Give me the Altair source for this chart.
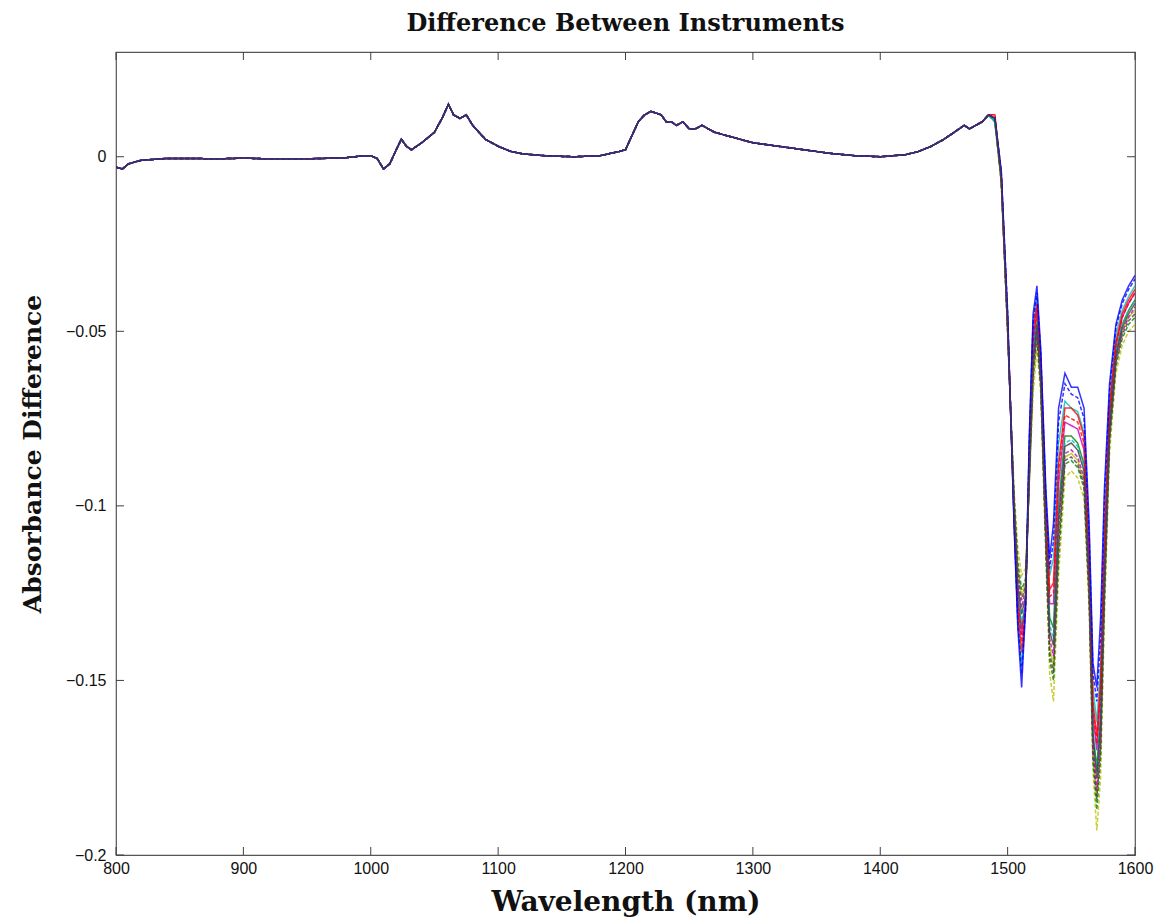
import altair as alt
import pandas as pd

# shared part of the spectra (800-1485 nm)
base_wl = [800, 805, 810, 820, 840, 860, 880, 900, 920, 950, 980, 995, 1000, 1005, 1010, 1015, 1020, 1024,
           1028, 1032, 1040, 1050, 1056, 1061, 1065, 1070, 1075, 1080, 1090, 1100, 1110, 1120, 1140, 1160,
           1180, 1195, 1200, 1205, 1210, 1215, 1220, 1228, 1232, 1236, 1240, 1245, 1250, 1255, 1260, 1270,
           1280, 1290, 1300, 1320, 1340, 1360, 1380, 1400, 1420, 1430, 1440, 1450, 1458, 1462, 1466, 1470,
           1475, 1480, 1485]
base_val = [-0.003, -0.0035, -0.002, -0.001, -0.0005, -0.0005, -0.0006, -0.0004, -0.0006, -0.0006, -0.0003,
            0.0003, 0.0003, -0.0005, -0.0035, -0.002, 0.002, 0.005, 0.003, 0.002, 0.004, 0.007, 0.011, 0.015,
            0.012, 0.011, 0.012, 0.009, 0.005, 0.003, 0.0015, 0.0008, 0.0002, 0.0, 0.0003, 0.0015, 0.002, 0.006,
            0.010, 0.012, 0.013, 0.012, 0.010, 0.010, 0.009, 0.010, 0.008, 0.008, 0.009, 0.007, 0.006, 0.005,
            0.004, 0.003, 0.002, 0.001, 0.0003, 0.0, 0.0006, 0.0015, 0.003, 0.005, 0.007, 0.008, 0.009, 0.008,
            0.009, 0.010, 0.012]

# individual tails (1490-1600 nm)
tail_wl = [1490, 1495, 1500, 1505, 1508, 1511, 1514, 1517, 1520, 1523, 1526, 1530, 1533, 1536, 1540, 1545,
           1550, 1555, 1560, 1564, 1567, 1570, 1573, 1576, 1580, 1585, 1590, 1595, 1600]

s1 = [0.011, -0.004, -0.045, -0.105, -0.135, -0.152, -0.130, -0.080, -0.045, -0.037, -0.055, -0.095, -0.115, -0.105, -0.072, -0.062, -0.066, -0.066, -0.072, -0.105, -0.145, -0.152, -0.132, -0.095, -0.065, -0.048, -0.041, -0.037, -0.034]
s2 = [0.010, -0.006, -0.048, -0.100, -0.125, -0.135, -0.128, -0.090, -0.055, -0.046, -0.062, -0.105, -0.132, -0.135, -0.100, -0.080, -0.080, -0.082, -0.088, -0.120, -0.165, -0.175, -0.160, -0.118, -0.076, -0.056, -0.048, -0.044, -0.041]
s3 = [0.012, -0.005, -0.047, -0.103, -0.130, -0.142, -0.130, -0.085, -0.050, -0.042, -0.058, -0.100, -0.124, -0.122, -0.088, -0.072, -0.072, -0.074, -0.080, -0.114, -0.156, -0.166, -0.150, -0.110, -0.072, -0.053, -0.045, -0.041, -0.038]
s4 = [0.010, -0.005, -0.046, -0.104, -0.133, -0.146, -0.128, -0.082, -0.048, -0.040, -0.057, -0.098, -0.120, -0.115, -0.082, -0.070, -0.072, -0.073, -0.079, -0.112, -0.152, -0.162, -0.146, -0.106, -0.070, -0.051, -0.044, -0.040, -0.037]
s5 = [0.011, -0.006, -0.049, -0.101, -0.127, -0.137, -0.128, -0.088, -0.053, -0.044, -0.060, -0.103, -0.128, -0.128, -0.094, -0.076, -0.077, -0.078, -0.084, -0.118, -0.160, -0.170, -0.154, -0.114, -0.074, -0.054, -0.046, -0.042, -0.039]
s6 = [0.010, -0.007, -0.050, -0.098, -0.118, -0.126, -0.122, -0.092, -0.062, -0.050, -0.065, -0.110, -0.140, -0.146, -0.110, -0.086, -0.085, -0.087, -0.093, -0.125, -0.170, -0.183, -0.168, -0.125, -0.080, -0.058, -0.050, -0.046, -0.044]
s7 = [0.011, -0.006, -0.048, -0.100, -0.123, -0.131, -0.126, -0.091, -0.058, -0.048, -0.064, -0.108, -0.136, -0.140, -0.104, -0.083, -0.082, -0.084, -0.090, -0.122, -0.166, -0.178, -0.162, -0.120, -0.078, -0.057, -0.049, -0.045, -0.042]
s8 = [0.011, -0.004, -0.044, -0.104, -0.133, -0.148, -0.130, -0.082, -0.047, -0.039, -0.056, -0.097, -0.118, -0.110, -0.076, -0.065, -0.068, -0.069, -0.075, -0.108, -0.148, -0.156, -0.138, -0.098, -0.067, -0.049, -0.042, -0.038, -0.035]
s9 = [0.010, -0.007, -0.050, -0.097, -0.116, -0.124, -0.121, -0.093, -0.064, -0.052, -0.066, -0.112, -0.144, -0.150, -0.115, -0.088, -0.087, -0.089, -0.095, -0.127, -0.173, -0.187, -0.172, -0.128, -0.082, -0.060, -0.052, -0.048, -0.046]
s10 = [0.012, -0.006, -0.047, -0.102, -0.128, -0.139, -0.129, -0.087, -0.052, -0.043, -0.059, -0.102, -0.126, -0.125, -0.090, -0.074, -0.075, -0.076, -0.082, -0.116, -0.158, -0.168, -0.152, -0.112, -0.073, -0.054, -0.046, -0.042, -0.039]
s11 = [0.010, -0.006, -0.048, -0.100, -0.124, -0.133, -0.127, -0.090, -0.056, -0.047, -0.063, -0.107, -0.134, -0.138, -0.102, -0.082, -0.081, -0.083, -0.089, -0.121, -0.165, -0.176, -0.160, -0.118, -0.077, -0.056, -0.048, -0.044, -0.041]
s12 = [0.011, -0.006, -0.049, -0.099, -0.121, -0.129, -0.124, -0.092, -0.060, -0.049, -0.065, -0.109, -0.138, -0.143, -0.107, -0.085, -0.084, -0.086, -0.092, -0.124, -0.169, -0.181, -0.166, -0.122, -0.079, -0.058, -0.050, -0.046, -0.043]
s13 = [0.010, -0.008, -0.050, -0.095, -0.112, -0.120, -0.118, -0.095, -0.068, -0.055, -0.068, -0.115, -0.148, -0.156, -0.120, -0.092, -0.090, -0.092, -0.098, -0.130, -0.176, -0.193, -0.178, -0.132, -0.085, -0.062, -0.054, -0.050, -0.048]
s14 = [0.011, -0.007, -0.050, -0.098, -0.119, -0.127, -0.123, -0.092, -0.061, -0.050, -0.065, -0.111, -0.142, -0.148, -0.112, -0.087, -0.086, -0.088, -0.094, -0.126, -0.171, -0.184, -0.169, -0.125, -0.081, -0.059, -0.051, -0.047, -0.045]

series_names = ["S1", "S2", "S3", "S4", "S5", "S6", "S7", "S8", "S9", "S10", "S11", "S12", "S13", "S14"]
tails = [s1, s2, s3, s4, s5, s6, s7, s8, s9, s10, s11, s12, s13, s14]
colors = ["#0000ff", "#008000", "#ff0000", "#00bfbf", "#bf00bf", "#bfbf00", "#404040",
          "#0000ff", "#008000", "#ff0000", "#00bfbf", "#bf00bf", "#bfbf00", "#404040"]
styles = ["solid"] * 7 + ["dashed"] * 7

# drawing order: last ones on top
draw_order = ["S13", "S6", "S9", "S2", "S14", "S12", "S5", "S11", "S4", "S10", "S3", "S8", "S1", "S7"]

x_ticks = [800, 900, 1000, 1100, 1200, 1300, 1400, 1500, 1600]
y_ticks = [0, -0.05, -0.1, -0.15, -0.2]

lookup = {n: (t, s) for n, t, s in zip(series_names, tails, styles)}
rows = []
for name in draw_order:
    tail, st = lookup[name]
    for w, v in zip(base_wl + tail_wl, base_val + tail):
        rows.append({"series": name, "wl": w, "val": v, "style": st})
df = pd.DataFrame(rows)

W, H = 1019, 803
xs = alt.Scale(domain=[800, 1600], nice=False, zero=False)
ys = alt.Scale(domain=[-0.2, 0.03], nice=False, zero=False)

lines = alt.Chart(df).mark_line(strokeWidth=1.5, clip=True, opacity=0.8).encode(
    x=alt.X("wl:Q", scale=xs,
            axis=alt.Axis(values=x_ticks, format="d", title="Wavelength (nm)", grid=False, tickSize=0,
                          labelPadding=5, domain=False, labelFlush=False, titlePadding=12)),
    y=alt.Y("val:Q", scale=ys,
            axis=alt.Axis(values=y_ticks, title="Absorbance Difference", grid=False, tickSize=0,
                          labelPadding=10, domain=False, labelFlush=False, titlePadding=20,
                          labelExpr="datum.value == 0 ? '0' : format(datum.value, '.2~f')")),
    color=alt.Color("series:N", scale=alt.Scale(domain=series_names, range=colors), legend=None),
    strokeDash=alt.StrokeDash("style:N", scale=alt.Scale(domain=["solid", "dashed"], range=[[1, 0], [4, 2]]),
                              legend=None),
    detail="series:N",
)

xt = pd.DataFrame({"t": x_ticks})
yt = pd.DataFrame({"t": y_ticks})
tick_col = "#404040"
xb = alt.Chart(xt).mark_rule(color=tick_col, strokeWidth=1).encode(
    x=alt.X("t:Q", scale=xs), y=alt.value(H), y2=alt.value(H - 8))
xtop = alt.Chart(xt).mark_rule(color=tick_col, strokeWidth=1).encode(
    x=alt.X("t:Q", scale=xs), y=alt.value(0), y2=alt.value(8))
yl = alt.Chart(yt).mark_rule(color=tick_col, strokeWidth=1).encode(
    y=alt.Y("t:Q", scale=ys), x=alt.value(0), x2=alt.value(8))
yr = alt.Chart(yt).mark_rule(color=tick_col, strokeWidth=1).encode(
    y=alt.Y("t:Q", scale=ys), x=alt.value(W), x2=alt.value(W - 8))

chart = alt.layer(lines, xb, xtop, yl, yr).properties(
    width=W, height=H,
    title=alt.TitleParams("Difference Between Instruments", font="DejaVu Serif", fontSize=24,
                          fontWeight="bold", color="#111111", anchor="middle", offset=16),
    autosize=alt.AutoSizeParams(type="none"),
    padding={"left": 116, "top": 52, "right": 30, "bottom": 68},
).configure_view(
    stroke="#555555", strokeWidth=1.2
).configure_axis(
    labelFont="Liberation Sans", labelFontSize=16, labelColor="#111111",
    titleFont="DejaVu Serif", titleFontWeight="bold", titleColor="#111111",
).configure_axisX(titleFontSize=28).configure_axisY(titleFontSize=25)

chart.save("out.html", embed_options={"renderer": "svg", "actions": False})
